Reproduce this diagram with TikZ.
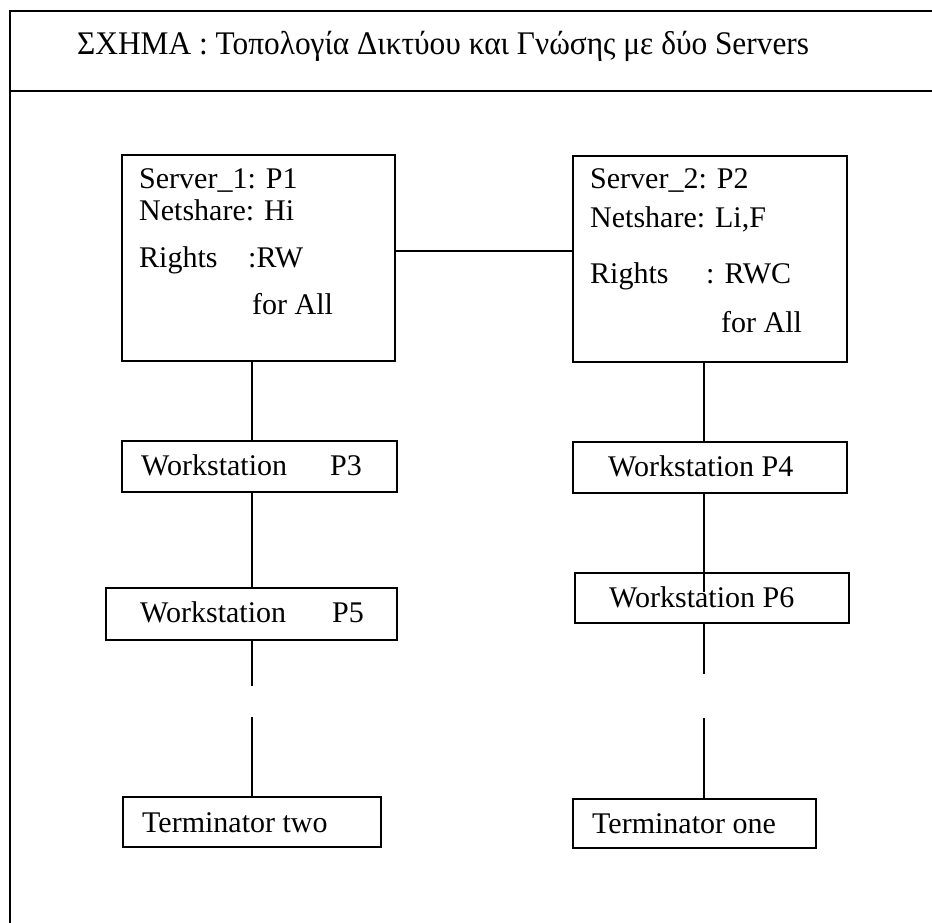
\documentclass[tikz,border=0pt]{standalone}
\usepackage{fontspec}
\setmainfont{Liberation Serif}
\newfontfamily\headfont[FakeStretch=0.95]{Liberation Serif}
\begin{document}
\begin{tikzpicture}[x=1pt,y=-1pt,
  box/.style={draw,line width=2.2pt,inner sep=0pt},
  txt/.style={anchor=base west,inner sep=0pt,font=\fontsize{30}{36}\selectfont},
  wire/.style={line width=2pt},
  frame/.style={line width=2.4pt}]
\useasboundingbox (0,0) rectangle (932,923);

% outer frame and header rule
\draw[frame] (932,11) -- (10,11) -- (10,923);
\draw[frame] (10,91) -- (932,91);
\node[anchor=base west,inner sep=0pt,font=\headfont\fontsize{33}{40}\selectfont] (title) at (77,55)
  {ΣΧΗΜΑ : Τοπολογία Δικτύου και Γνώσης με δύο Servers};

% boxes
\node[box,minimum width=273,minimum height=206] (s1) at (258.5,258) {};
\node[box,minimum width=274,minimum height=206] (s2) at (710,259) {};
\node[box,minimum width=275,minimum height=51] (w3) at (259.5,466.5) {};
\node[box,minimum width=274,minimum height=51] (w4) at (710,467.5) {};
\node[box,minimum width=291,minimum height=52] (w5) at (251.5,614) {};
\node[box,minimum width=274,minimum height=50] (w6) at (712,598) {};
\node[box,minimum width=258,minimum height=50] (t2) at (252,822) {};
\node[box,minimum width=243,minimum height=49] (t1) at (694.5,823.5) {};

% texts
\node[txt] (s1a) at (139,189) {Server\_1: P1};
\node[txt] (s1b) at (139,220) {Netshare: Hi};
\node[txt] (s1c) at (139,267) {Rights};
\node[txt] (s1d) at (248,267) {:RW};
\node[txt] (s1e) at (252,314) {for All};

\node[txt] (s2a) at (590,189) {Server\_2: P2};
\node[txt] (s2b) at (590,227) {Netshare: Li,F};
\node[txt] (s2c) at (590,283) {Rights};
\node[txt] (s2d) at (706,283) {: RWC};
\node[txt] (s2e) at (721,332) {for All};

\node[txt] (w3a) at (141,475) {Workstation};
\node[txt] (w3b) at (330,475) {P3};
\node[txt] (w4a) at (608,476) {Workstation P4};
\node[txt] (w5a) at (140,622) {Workstation};
\node[txt] (w5b) at (332,622) {P5};
\node[txt] (w6a) at (609,607) {Workstation P6};
\node[txt] (t2a) at (142,832) {Terminator two};
\node[txt] (t1a) at (592,833) {Terminator one};

% columns of the two bus lines
\coordinate (lx) at (252,0);
\coordinate (rx) at (703.5,0);
\coordinate (link) at (0,251);
\coordinate (gl1) at (252,686);
\coordinate (gl2) at (252,717);
\coordinate (gr0) at (703.5,592);
\coordinate (gr1) at (703.5,674);
\coordinate (gr2) at (703.5,718);

% connectors
\draw[wire] (s1.east |- link) -- (s2.west |- link);
\draw[wire] (s1.south -| lx) -- (w3.north -| lx);
\draw[wire] (w3.south -| lx) -- (w5.north -| lx);
\draw[wire] (w5.south -| lx) -- (gl1);
\draw[wire] (gl2) -- (t2.north -| lx);
\draw[wire] (s2.south -| rx) -- (w4.north -| rx);
\draw[wire] (w4.south -| rx) -- (gr0);
\draw[wire] (w6.south -| rx) -- (gr1);
\draw[wire] (gr2) -- (t1.north -| rx);
\end{tikzpicture}
\end{document}
